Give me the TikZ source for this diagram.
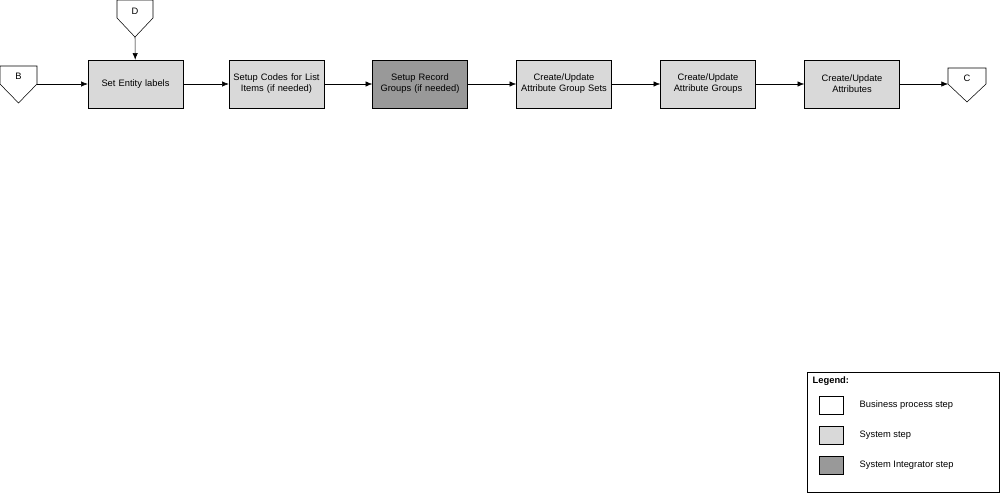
\documentclass[tikz,border=0pt]{standalone}
\usepackage{fontspec}
\setmainfont{Liberation Sans}
\usetikzlibrary{arrows.meta}
\begin{document}
\begin{tikzpicture}[x=0.75pt,y=-0.75pt,
  every node/.style={font=\fontsize{7}{8.3}\selectfont},
  sys/.style={draw,fill=black!15,minimum width=71.25pt,minimum height=36pt,align=center,text width=66pt,inner sep=1pt},
  integ/.style={sys,fill=black!40},
  conn/.style={-{Latex[length=5pt,width=4pt]},black},
  pent/.style={draw,fill=white}]
\useasboundingbox (0,0) rectangle (1000,493);
% off-page connectors
\draw[pent] (0,66)--(37,66)--(37,84)--(18.5,103)--(0,84)--cycle;
\node (B) at (18.5,76) {B};
\coordinate (Bo) at (37,84);
\draw[pent] (117,0)--(153,0)--(153,18)--(135,37)--(117,18)--cycle;
\node (D) at (135,11) {D};
\coordinate (Do) at (135,37);
\draw[pent] (948,68)--(986,68)--(986,84)--(967,102)--(948,84)--cycle;
\node (C) at (967,78) {C};
\coordinate (Ci) at (948,84);
% steps
\node[sys] (s1) at (135.5,84) {Set Entity labels};
\node[sys] (s2) at (276.5,84) {Setup Codes for List Items (if needed)};
\node[integ] (s3) at (420,84) {Setup Record Groups (if needed)};
\node[sys] (s4) at (564,84) {Create/Update Attribute Group Sets};
\node[sys] (s5) at (708,84) {Create/Update Attribute Groups};
\node[sys] (s6) at (852,84) {Create/Update Attributes};
\draw[conn] (Bo) -- (s1);
\draw[conn] (Do) -- (s1);
\draw[conn] (s1) -- (s2);
\draw[conn] (s2) -- (s3);
\draw[conn] (s3) -- (s4);
\draw[conn] (s4) -- (s5);
\draw[conn] (s5) -- (s6);
\draw[conn] (s6) -- (Ci);
% legend
\draw (807,372) rectangle (999,492);
\node[anchor=west,font=\fontsize{7}{8}\selectfont\bfseries] (lg) at (808,381) {Legend:};
\draw[fill=white] (819,396) rectangle (843,414);
\node[anchor=west] (l1) at (855,405) {Business process step};
\draw[fill=black!15] (819,426) rectangle (843,444);
\node[anchor=west] (l2) at (855,435) {System step};
\draw[fill=black!40] (819,456) rectangle (843,474);
\node[anchor=west] (l3) at (855,465) {System Integrator step};
\end{tikzpicture}
\end{document}
